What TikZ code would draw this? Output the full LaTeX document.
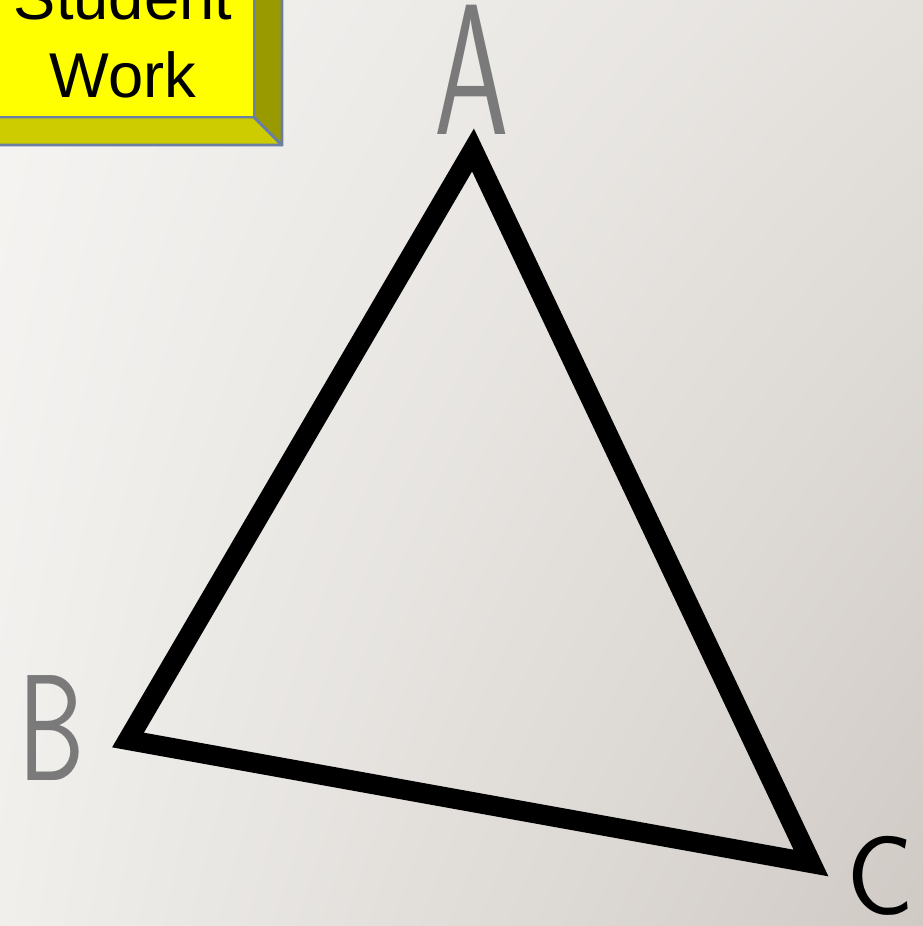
\documentclass[tikz,border=0pt]{standalone}
\usepackage{fontspec}
\usepackage{graphicx}
\usetikzlibrary{shadings}
\setmainfont{Liberation Sans}
\definecolor{paperUL}{HTML}{F5F4F2}
\definecolor{paperUR}{HTML}{E4E1DD}
\definecolor{paperLL}{HTML}{F0EFEC}
\definecolor{paperLR}{HTML}{D0CAC5}
\definecolor{badgeface}{HTML}{FFFF00}
\definecolor{badgebottom}{HTML}{CCCC00}
\definecolor{badgeside}{HTML}{999900}
\definecolor{badgeline}{HTML}{6B7FA3}
\definecolor{pencil}{HTML}{7A7A7A}
\begin{document}
\begin{tikzpicture}[x=0.01cm, y=-0.01cm,
    marker/.style={line width=5.7pt, line join=miter, draw=black},
    bevel/.style={draw=badgeline, line width=0.8pt, line join=round},
    handlabel/.style={inner sep=0pt, font=\sffamily}]
    \useasboundingbox (0,0) rectangle (923,926);
    \shade[upper left=paperUL, upper right=paperUR, lower left=paperLL, lower right=paperLR]
        (0,0) rectangle (923,926);

    % Student Work badge
    \fill[badgebottom, bevel] (-10,117) -- (254,117) -- (282,145) -- (-10,145) -- cycle;
    \fill[badgeside, bevel] (254,-10) -- (282,-10) -- (282,145) -- (254,117) -- cycle;
    \fill[badgeface, bevel] (-10,-10) rectangle (254,117);
    \node[align=center, inner sep=0pt, font=\fontsize{18}{22}\selectfont] (badge) at (123,36) {Student\\Work};

    % Triangle corners
    \coordinate (A) at (473,150);
    \coordinate (B) at (128,740);
    \coordinate (C) at (811,863);
    \draw[marker] (A) -- (B) -- (C) -- cycle;

    % Handwritten vertex letters
    \node[handlabel, text=pencil] (labA) at (472,70) {\scalebox{0.64}[1]{\fontsize{53}{58}\selectfont A}};
    \node[handlabel, text=pencil] (labB) at (52,728) {\scalebox{0.7}[1]{\fontsize{43}{48}\selectfont B}};
    \node[handlabel, text=black] (labC) at (880,876) {\fontsize{32}{36}\selectfont C};
\end{tikzpicture}
\end{document}
